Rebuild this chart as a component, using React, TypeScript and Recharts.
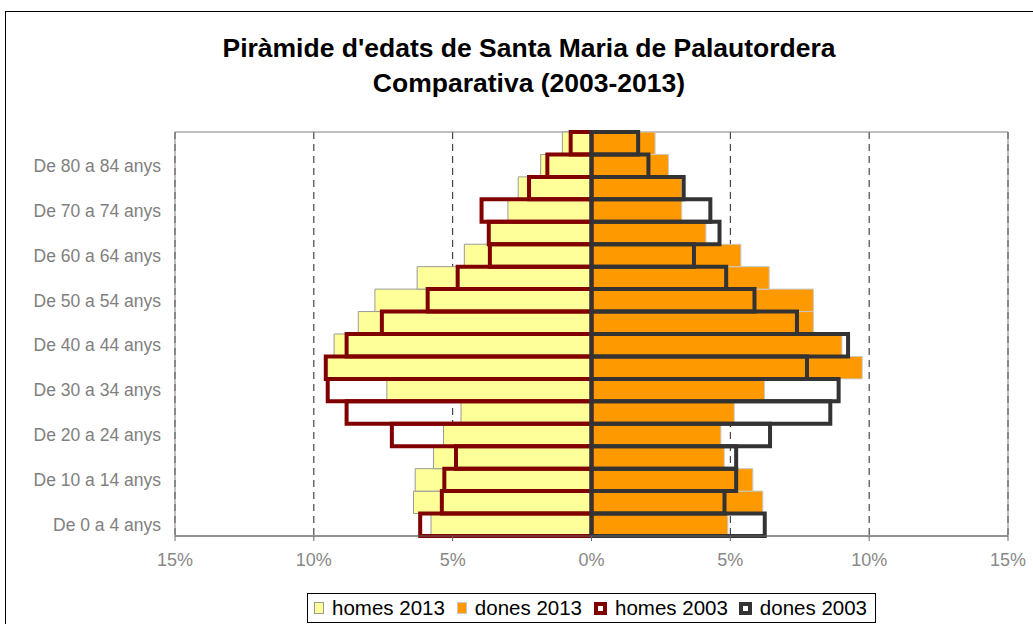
import { BarChart, Bar, XAxis, YAxis, CartesianGrid, ReferenceArea } from "recharts";

// age groups, youngest first (drawn bottom-up)
const ageGroups = [
    "De 0 a 4 anys", "De 5 a 9 anys", "De 10 a 14 anys", "De 15 a 19 anys",
    "De 20 a 24 anys", "De 25 a 29 anys", "De 30 a 34 anys", "De 35 a 39 anys",
    "De 40 a 44 anys", "De 45 a 49 anys", "De 50 a 54 anys", "De 55 a 59 anys",
    "De 60 a 64 anys", "De 65 a 69 anys", "De 70 a 74 anys", "De 75 a 79 anys",
    "De 80 a 84 anys", "De 85 i més anys",
];

// percentages of total population
const homes2013 = [5.78, 6.41, 6.35, 5.69, 5.33, 4.7, 7.37, 9.55, 9.27, 8.4, 7.8, 6.28, 4.58, 3.68, 3.01, 2.64, 1.83, 1.05];
const dones2013 = [4.91, 6.17, 5.81, 4.78, 4.66, 5.14, 6.23, 9.75, 9.02, 7.99, 7.99, 6.4, 5.38, 4.12, 3.25, 3.25, 2.77, 2.29];
const homes2003 = [6.17, 5.39, 5.3, 4.88, 7.19, 8.82, 9.5, 9.57, 8.82, 7.55, 5.9, 4.82, 3.66, 3.7, 3.96, 2.25, 1.59, 0.75];
const dones2003 = [6.24, 4.79, 5.21, 5.21, 6.43, 8.6, 8.9, 7.76, 9.24, 7.4, 5.87, 4.85, 3.69, 4.61, 4.28, 3.32, 2.05, 1.68];

const xTicks = [-15, -10, -5, 0, 5, 10, 15];

const data = ageGroups.map((age, i) => ({
    age,
    h13: -homes2013[i],
    d13: dones2013[i],
    h03: -homes2003[i],
    d03: dones2003[i],
}));

const FONT = "'Liberation Sans', Arial, sans-serif";
const PLOT_TOP = 132;
const PLOT_BOTTOM = 536;
const BAND = (PLOT_BOTTOM - PLOT_TOP) / ageGroups.length - 0.01;

function LegendItem({ label, box, ml }: { label: string; box: React.CSSProperties; ml: number }) {
    return (
        <div style={{ display: "flex", alignItems: "center", marginLeft: ml }}>
            <span style={{ display: "inline-block", boxSizing: "border-box", ...box }} />
            <span style={{ marginLeft: 8 }}>{label}</span>
        </div>
    );
}

export default function App() {
    return (
        <div style={{ position: "absolute", left: 0, top: 0, width: 1033, height: 624, overflow: "hidden", background: "#fff", fontFamily: FONT }}>
            <div style={{ position: "absolute", left: 5, top: 11, width: 1060, height: 700, border: "1px solid #000" }} />
            <div style={{ position: "absolute", left: 0, top: 31, width: 1058, textAlign: "center", fontWeight: "bold", fontSize: 26.5, lineHeight: "35px", color: "#000" }}>
                Piràmide d'edats de Santa Maria de Palautordera
                <br />
                Comparativa (2003-2013)
            </div>
            <div style={{ position: "absolute", left: 0, top: 0 }}>
                <BarChart
                    width={1033}
                    height={624}
                    data={data}
                    layout="vertical"
                    margin={{ top: PLOT_TOP, right: 25, bottom: 58, left: 0 }}
                    barCategoryGap={0}
                    barGap={-BAND}
                    style={{ fontFamily: FONT }}
                >
                    <CartesianGrid horizontal={false} stroke="#222" strokeDasharray="7 5" />
                    <XAxis
                        type="number"
                        domain={[-15, 15]}
                        ticks={xTicks}
                        tickFormatter={(v) => `${Math.abs(v)}%`}
                        height={30}
                        stroke="#666"
                        tickSize={5}
                        tickMargin={12}
                        tick={{ fill: "#888", fontSize: 18 }}
                    />
                    <YAxis
                        type="category"
                        dataKey="age"
                        reversed
                        interval={0}
                        width={175}
                        axisLine={false}
                        tickLine={false}
                        tickSize={8}
                        tickMargin={6}
                        tickFormatter={(v, i) => (i % 2 === 0 ? v : "")}
                        tick={{ fill: "#808080", fontSize: 17.5 }}
                    />
                    <Bar dataKey="h13" fill="#FFFF99" stroke="#9a9a9a" strokeWidth={1} barSize={BAND} isAnimationActive={false} />
                    <Bar dataKey="d13" fill="#FF9900" stroke="#c8c8c8" strokeWidth={1} barSize={BAND} isAnimationActive={false} />
                    <Bar dataKey="h03" fill="none" stroke="#800000" strokeWidth={4} barSize={BAND} isAnimationActive={false} />
                    <Bar dataKey="d03" fill="none" stroke="#333333" strokeWidth={4} barSize={BAND} isAnimationActive={false} />
                    <ReferenceArea x1={-15} x2={15} fill="none" stroke="#808080" strokeWidth={1} ifOverflow="visible" />
                </BarChart>
            </div>
            <div
                style={{
                    position: "absolute", left: 307, top: 593, width: 569, height: 30, boxSizing: "border-box",
                    border: "1px solid #000", display: "flex", alignItems: "center", fontSize: 20.5, color: "#000", background: "#fff",
                }}
            >
                <LegendItem label="homes 2013" ml={6} box={{ width: 10, height: 12, background: "#FFFF99", border: "1px solid #9a9a9a" }} />
                <LegendItem label="dones 2013" ml={12} box={{ width: 10, height: 12, background: "#FF9900", border: "1px solid #c8c8c8" }} />
                <LegendItem label="homes 2003" ml={12} box={{ width: 13, height: 13, background: "#fff", border: "4px solid #800000" }} />
                <LegendItem label="dones 2003" ml={11} box={{ width: 13, height: 13, background: "#fff", border: "4px solid #333" }} />
            </div>
        </div>
    );
}
